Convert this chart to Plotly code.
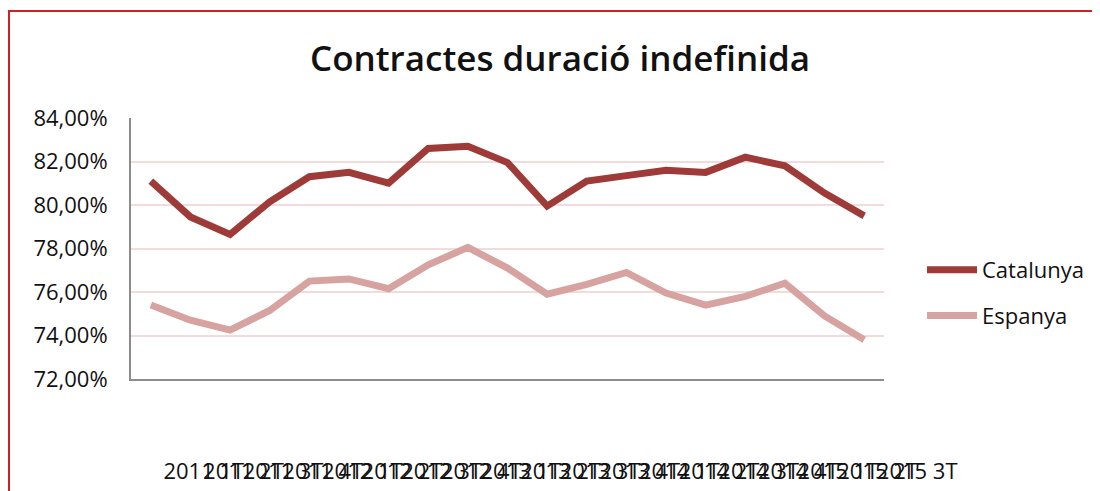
import plotly.graph_objects as go

categories = ["2011 1T", "2011 2T", "2011 3T", "2011 4T",
              "2012 1T", "2012 2T", "2012 3T", "2012 4T",
              "2013 1T", "2013 2T", "2013 3T", "2013 4T",
              "2014 1T", "2014 2T", "2014 3T", "2014 4T",
              "2015 1T", "2015 2T", "2015 3T"]
catalunya = [81.1, 79.45, 78.65, 80.15, 81.3, 81.5, 81.0, 82.6, 82.7,
             81.95, 79.95, 81.1, 81.35, 81.6, 81.5, 82.2, 81.8, 80.55, 79.5]
espanya = [75.4, 74.7, 74.25, 75.15, 76.5, 76.6, 76.15, 77.25, 78.05,
           77.1, 75.9, 76.35, 76.9, 75.95, 75.4, 75.8, 76.4, 74.9, 73.8]
y_ticks = [72, 74, 76, 78, 80, 82, 84]
y_ticktext = [f"{v:.2f}".replace(".", ",") + "%" for v in y_ticks]

W, H = 1100, 491
OFF = 8  # page body margin
px = lambda v: (v - OFF) / W
py = lambda v: 1 - (v - OFF) / H

font_family = "'Open Sans', Lato, sans-serif"

fig = go.Figure()
fig.add_trace(go.Scatter(x=categories, y=catalunya, name="Catalunya", mode="lines",
                         legendgroup="a",
                         line=dict(color="#9E3B38", width=7)))
fig.add_trace(go.Scatter(x=categories, y=espanya, name="Espanya", mode="lines",
                         legendgroup="b",
                         line=dict(color="#D6A3A1", width=7)))

fig.update_layout(
    template="none",
    width=W, height=H,
    margin=dict(l=0, r=0, t=0, b=0, pad=0),
    paper_bgcolor="white", plot_bgcolor="white",
    font=dict(family=font_family, color="#111111", size=18),
    title=dict(text="Contractes duració indefinida",
               x=px(560), y=py(59), xanchor="center", yanchor="middle",
               xref="paper", yref="paper",
               font=dict(family=font_family, size=35, weight=600, color="#111111")),
    xaxis=dict(domain=[px(131), px(884)], type="category", automargin=False,
               range=[-0.5, len(categories) - 0.5],
               tickmode="array", tickvals=categories, ticktext=categories,
               tickangle=0, showgrid=False, showline=True, linecolor="#8C8C8C",
               linewidth=2, ticks="", ticklabelstandoff=72, ticklabelshift=53,
               zeroline=False, tickfont=dict(size=22, color="#111111")),
    yaxis=dict(domain=[py(379), py(118)], range=[72, 84], automargin=False,
               tickmode="array", tickvals=y_ticks, ticktext=y_ticktext,
               showgrid=True, gridcolor="#F2DCDB", gridwidth=2,
               showline=True, linecolor="#8C8C8C", linewidth=2,
               ticks="", ticklabelstandoff=17, zeroline=False,
               tickfont=dict(size=22, color="#111111")),
    showlegend=True,
    legend=dict(x=px(922), y=py(249), xanchor="left", yanchor="top",
                bgcolor="rgba(0,0,0,0)", itemwidth=50, tracegroupgap=14,
                font=dict(size=22, color="#111111")),
    shapes=[dict(type="rect", xref="paper", yref="paper",
                 x0=px(9), x1=1.05, y0=-0.05, y1=py(11),
                 line=dict(color="#CC2222", width=2), fillcolor="rgba(0,0,0,0)",
                 layer="above")],
)

fig.write_html("out.html")
